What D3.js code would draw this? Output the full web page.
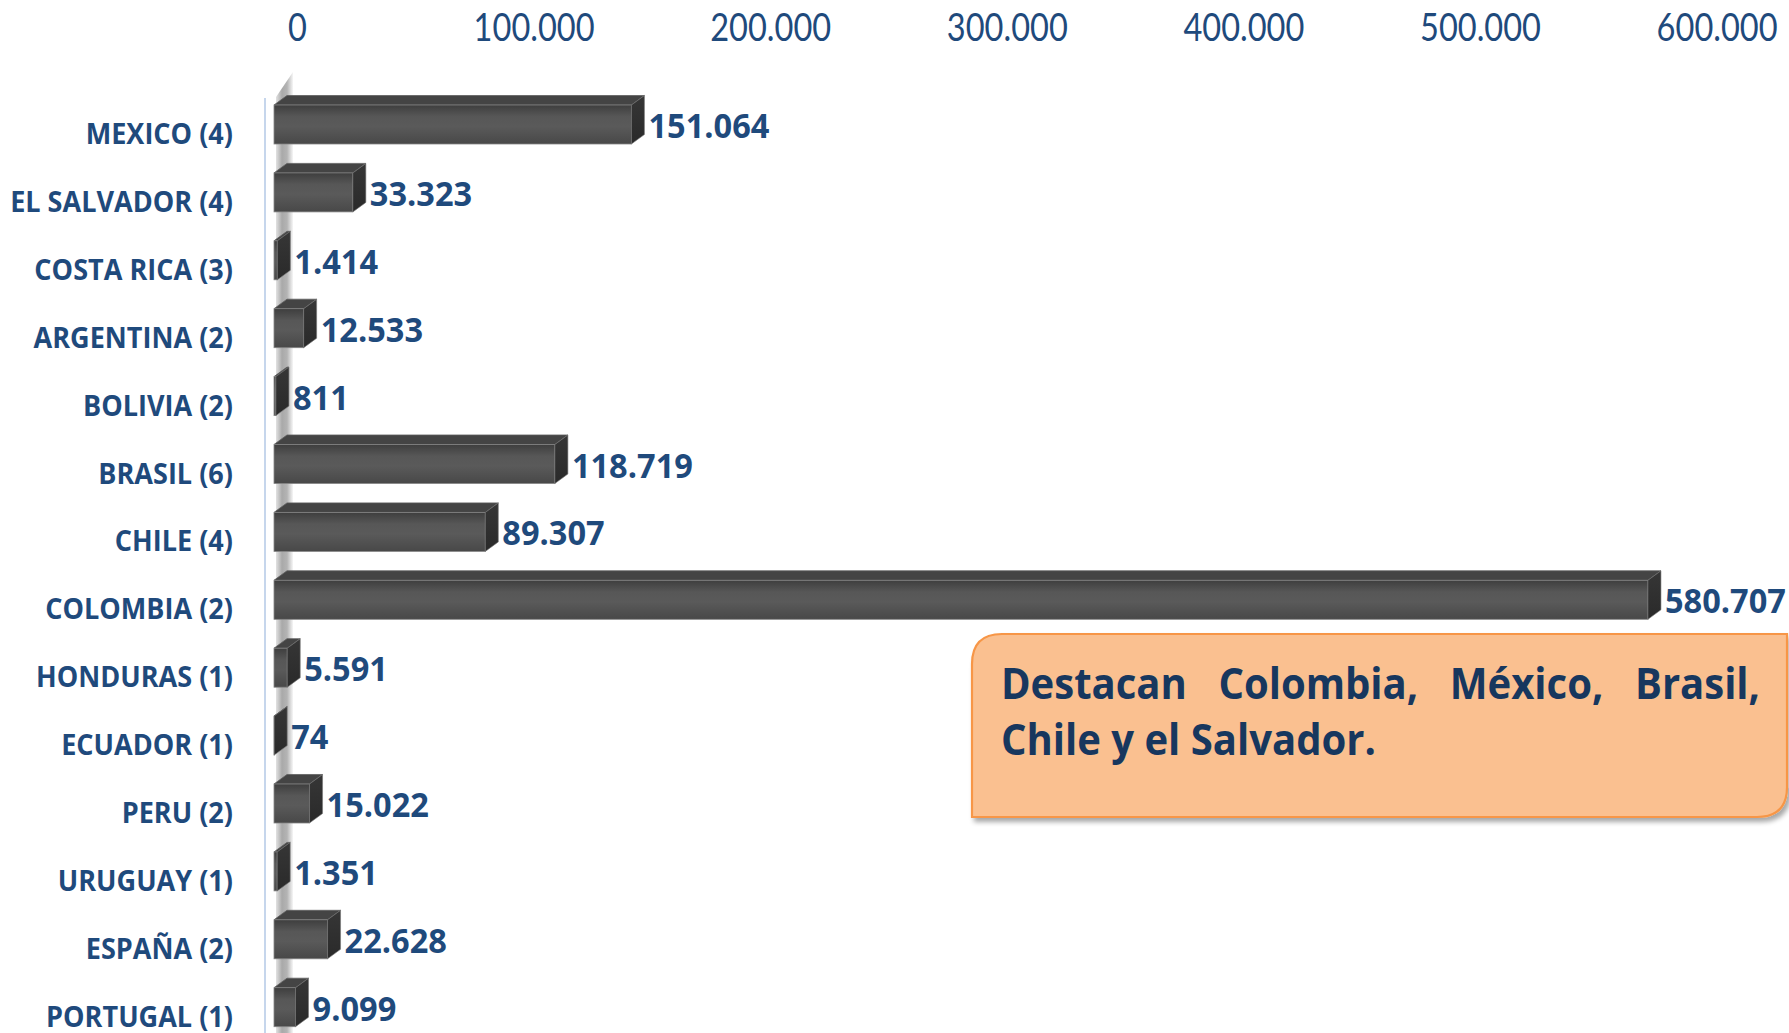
<!DOCTYPE html>
<html>
<head>
<meta charset="utf-8">
<script src="https://cdn.jsdelivr.net/npm/d3@7"></script>
<style>
  html, body { margin: 0; padding: 0; background: #ffffff; }
  svg { display: block; }
</style>
</head>
<body>
<svg id="chart" width="1789" height="1033"></svg>
<script>
// Countries (number of institutions) and their totals
const categories = [
  "MEXICO (4)", "EL SALVADOR (4)", "COSTA RICA (3)", "ARGENTINA (2)", "BOLIVIA (2)",
  "BRASIL (6)", "CHILE (4)", "COLOMBIA (2)", "HONDURAS (1)", "ECUADOR (1)",
  "PERU (2)", "URUGUAY (1)", "ESPAÑA (2)", "PORTUGAL (1)"
];
const values = [151064, 33323, 1414, 12533, 811, 118719, 89307, 580707, 5591, 74, 15022, 1351, 22628, 9099];
const tickValues = [0, 100000, 200000, 300000, 400000, 500000, 600000];
const noteLine1 = ["Destacan", "Colombia,", "México,", "Brasil,"];
const noteLine2 = "Chile y el Salvador.";

const FONT = "'Open Sans', Lato, sans-serif";
const TICK_FONT = "Lato, 'Open Sans', sans-serif";
const LABEL = "#1f4a7c";
const NOTE_TEXT = "#17375e";
const CAP = 0.714; // cap/digit height per em

const svg = d3.select("#chart");
const defs = svg.append("defs");

// 3D geometry
const depthX = 13, depthY = 9.5;
const x = d3.scaleLinear().domain([0, 600000]).range([274, 274 + 600000 * 0.002366]);
const y = d3.scaleBand().domain(categories)
  .range([105, 105 + 13 * 67.9 + 39]).paddingInner(0.4256).paddingOuter(0);
const fmt = d3.formatLocale({ decimal: ",", thousands: ".", grouping: [3] }).format(",d");

// measure helper
const probe = svg.append("text").attr("x", -1000).attr("y", -1000);
function measure(str, weight, size, family = FONT) {
  probe.attr("font-family", family).attr("font-weight", weight).attr("font-size", size).text(str);
  return probe.node().getComputedTextLength();
}
function fitSize(sample, weight, targetW, family = FONT) {
  return 100 * targetW / measure(sample, weight, 100, family);
}

// gradients
const gFront = defs.append("linearGradient").attr("id", "front").attr("x1", 0).attr("y1", 0).attr("x2", 0).attr("y2", 1);
[["0%", "#3e3e3e"], ["30%", "#575757"], ["55%", "#5a5a5a"], ["100%", "#484848"]]
  .forEach(([o, c]) => gFront.append("stop").attr("offset", o).attr("stop-color", c));
const gSide = defs.append("linearGradient").attr("id", "side").attr("x1", 0).attr("y1", 0).attr("x2", 0).attr("y2", 1);
[["0%", "#363636"], ["100%", "#2a2a2a"]]
  .forEach(([o, c]) => gSide.append("stop").attr("offset", o).attr("stop-color", c));
const gWall = defs.append("linearGradient").attr("id", "wall").attr("x1", 0).attr("y1", 0).attr("x2", 1).attr("y2", 0);
[["0%", "#e2e2e2"], ["35%", "#a9a9a9"], ["65%", "#b4b4b4"], ["100%", "#f6f6f6"]]
  .forEach(([o, c]) => gWall.append("stop").attr("offset", o).attr("stop-color", c));
const shadow = defs.append("filter").attr("id", "shadow").attr("x", "-5%").attr("y", "-10%").attr("width", "115%").attr("height", "130%");
shadow.append("feGaussianBlur").attr("in", "SourceAlpha").attr("stdDeviation", 2.5);
shadow.append("feOffset").attr("dx", 3).attr("dy", 4).attr("result", "b");
shadow.append("feComponentTransfer").append("feFuncA").attr("type", "linear").attr("slope", 0.35);
const sm = shadow.append("feMerge");
sm.append("feMergeNode"); sm.append("feMergeNode").attr("in", "SourceGraphic");

// left wall of the 3D plot area
const x0 = x(0);
const wallTop = y.range()[0] - 8;
svg.append("polygon")
  .attr("points", [[x0 + 2, wallTop], [x0 + 2 + depthX + 4, wallTop - 25], [x0 + 2 + depthX + 4, 1033], [x0 + 2, 1033]].join(" "))
  .attr("fill", "url(#wall)");

// vertical axis line
svg.append("line")
  .attr("x1", 265).attr("x2", 265).attr("y1", 98).attr("y2", 1033)
  .attr("stroke", "#c6d6ec").attr("stroke-width", 2);

// top axis tick labels
const tickSize = fitSize("100.000", 400, 121, TICK_FONT);
const tickScaleY = 27 / (0.7165 * tickSize);
svg.append("g").selectAll("g").data(tickValues).join("g")
  .attr("transform", d => `translate(${x(d) + 23.5},41) scale(1,${tickScaleY})`)
  .append("text")
  .attr("text-anchor", "middle")
  .attr("font-family", TICK_FONT).attr("font-size", tickSize).attr("fill", LABEL)
  .text(d => fmt(d));

// category labels
const catSize = fitSize("EL SALVADOR (4)", 700, 223);
const catScaleY = 20 / (CAP * catSize);
svg.append("g").selectAll("g").data(categories).join("g")
  .attr("transform", d => `translate(233,${y(d) + y.bandwidth() / 2 + 19.5}) scale(1,${catScaleY})`)
  .append("text")
  .attr("text-anchor", "end")
  .attr("font-family", FONT).attr("font-weight", 700).attr("font-size", catSize).attr("fill", LABEL)
  .text(d => d);

// bars as 3D boxes
const rows = categories.map((c, i) => ({ c, v: values[i] }));
const bars = svg.append("g").selectAll("g").data(rows).join("g");
bars.append("polygon") // top face
  .attr("points", d => {
    const yt = y(d.c), xr = x(d.v);
    return [[x0, yt], [x0 + depthX, yt - depthY], [xr + depthX, yt - depthY], [xr, yt]].join(" ");
  })
  .attr("fill", "#444444").attr("stroke", "#5e5e5e").attr("stroke-width", 0.8);
bars.append("rect") // front face
  .attr("x", x0).attr("y", d => y(d.c))
  .attr("width", d => x(d.v) - x0).attr("height", y.bandwidth())
  .attr("fill", "url(#front)").attr("stroke", "#858585").attr("stroke-width", 0.8);
bars.append("polygon") // side face
  .attr("points", d => {
    const yt = y(d.c), xr = x(d.v), h = y.bandwidth();
    return [[xr, yt], [xr + depthX, yt - depthY], [xr + depthX, yt + h - depthY], [xr, yt + h]].join(" ");
  })
  .attr("fill", "url(#side)").attr("stroke", "#777777").attr("stroke-width", 0.6);

// value labels
const valSize = fitSize("580.707", 700, 121);
const valScaleY = 24.3 / (CAP * valSize);
svg.append("g").selectAll("g").data(rows).join("g")
  .attr("transform", d => `translate(${x(d.v) + depthX + 4},${y(d.c) + y.bandwidth() / 2 + 13.5}) scale(1,${valScaleY})`)
  .append("text")
  .attr("font-family", FONT).attr("font-weight", 700).attr("font-size", valSize).attr("fill", LABEL)
  .text(d => fmt(d.v));

// callout note
const bx0 = 972, by0 = 634, bx1 = 1787, by1 = 817, r = 30;
const notePath = `M${bx0},${by0 + r} Q${bx0},${by0} ${bx0 + r},${by0} L${bx1},${by0} L${bx1},${by1 - r} Q${bx1},${by1} ${bx1 - r},${by1} L${bx0},${by1} Z`;
svg.append("path").attr("d", notePath)
  .attr("fill", "#fac090").attr("stroke", "#f79646").attr("stroke-width", 2.2)
  .attr("filter", "url(#shadow)");

const noteSize = fitSize(noteLine2, 700, 375);
const noteScaleY = 31 / (CAP * noteSize);
const lineL = 1001, lineR = 1760;
const widths = noteLine1.map(w => measure(w, 700, noteSize));
const gap = (lineR - lineL - d3.sum(widths)) / (noteLine1.length - 1);
const starts = widths.map((w, i) => lineL + d3.sum(widths.slice(0, i)) + gap * i);
const line1 = svg.append("g").attr("transform", `translate(0,699) scale(1,${noteScaleY})`);
line1.selectAll("text").data(noteLine1).join("text")
  .attr("x", (d, i) => starts[i]).attr("y", 0)
  .attr("font-family", FONT).attr("font-weight", 700).attr("font-size", noteSize).attr("fill", NOTE_TEXT)
  .text(d => d);
svg.append("g").attr("transform", `translate(${lineL},755) scale(1,${noteScaleY})`)
  .append("text")
  .attr("font-family", FONT).attr("font-weight", 700).attr("font-size", noteSize).attr("fill", NOTE_TEXT)
  .text(noteLine2);

probe.remove();
</script>
</body>
</html>
